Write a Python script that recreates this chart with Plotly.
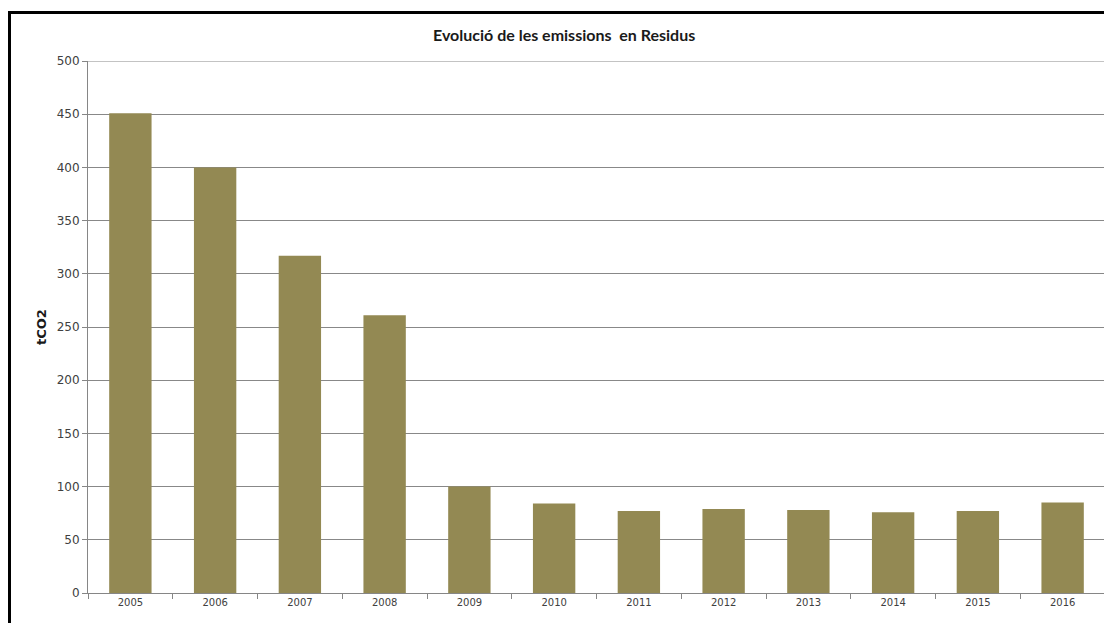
import plotly.graph_objects as go

years = ["2005", "2006", "2007", "2008", "2009", "2010", "2011", "2012", "2013", "2014", "2015", "2016"]
emissions = [451, 400, 317, 261, 100, 84, 77, 79, 78, 76, 77, 85]

title_text = "Evolució de les emissions  en Residus"
y_title = "tCO2"
y_max = 500

# page body margin offset (the figure is drawn 8px from page top-left)
OFF = 8
W, H = 1112 - OFF, 623 - OFF
# plot area in page pixels: x 88..1105, y 61..593
ml, mr = 88 - OFF, 1112 - 1105
mt, mb = 61 - OFF, 623 - 593
pw = W - ml - mr
ph = H - mt - mb

fig = go.Figure()
fig.add_trace(go.Bar(x=years, y=emissions, marker=dict(color="#938953", line=dict(width=0)),
                     hoverinfo="x+y"))

def px_x(p):
    return (p - OFF - ml) / pw

def px_y(p):
    return 1 - (p - OFF - mt) / ph

fig.update_layout(
    width=W, height=H,
    margin=dict(l=ml, r=mr, t=mt, b=mb),
    paper_bgcolor="white", plot_bgcolor="white",
    bargap=0.5,
    showlegend=False,
    font=dict(family="DejaVu Sans", color="#404040"),
    xaxis=dict(
        type="category",
        showline=True, linecolor="#868686", linewidth=1,
        ticks="outside", tickson="boundaries", ticklen=5, tickcolor="#868686",
        tickfont=dict(size=10, family="DejaVu Sans", color="#404040"),
        showgrid=False,
    ),
    yaxis=dict(
        range=[0, y_max], dtick=50,
        showline=True, linecolor="#868686", linewidth=1,
        ticks="outside", ticklen=5, tickcolor="#868686",
        tickfont=dict(size=12, family="DejaVu Sans", color="#404040"),
        showgrid=True, gridcolor="#888888", gridwidth=1,
        zeroline=False,
    ),
    annotations=[
        dict(text="<b>" + title_text + "</b>", xref="paper", yref="paper",
             x=px_x(564), y=px_y(34), xanchor="center", yanchor="middle",
             showarrow=False, font=dict(size=16, family="Lato", color="#1a1a1a")),
        dict(text="<b>" + y_title + "</b>", xref="paper", yref="paper",
             x=px_x(41), y=px_y(327), xanchor="center", yanchor="middle",
             textangle=-90, showarrow=False,
             font=dict(size=13, family="DejaVu Sans", color="#1a1a1a")),
    ],
    shapes=[
        # top gridline at the range maximum
        dict(type="line", xref="paper", yref="y", x0=0, x1=1, y0=y_max, y1=y_max,
             line=dict(color="#888888", width=1), layer="below"),
        dict(type="rect", xref="paper", yref="paper",
             x0=px_x(9.5), x1=px_x(1140), y0=px_y(12.5), y1=px_y(660),
             line=dict(color="black", width=3), fillcolor="rgba(0,0,0,0)", layer="above"),
    ],
)

fig.write_html("out.html")
